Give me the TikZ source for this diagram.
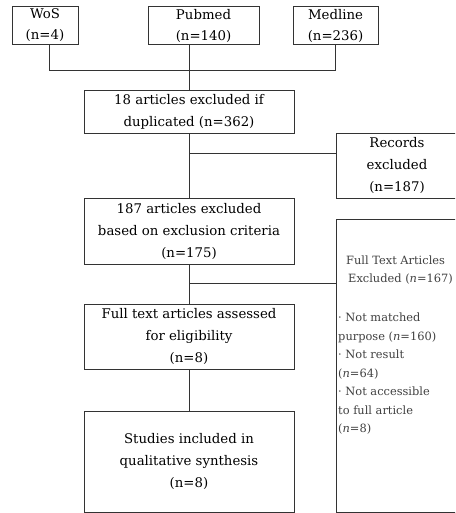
\documentclass[tikz,border=0pt]{standalone}
\usepackage{fontspec}
\setmainfont{DejaVu Serif}

\begin{document}
\begin{tikzpicture}[x=1pt,y=-1pt,
  box/.style={draw=black!80, line width=0.8pt, align=center, inner sep=0pt,
    font=\fontsize{13.3}{22}\selectfont},
  src/.style={box, minimum height=38pt, font=\fontsize{13.3}{21}\selectfont},
  note/.style={align=left, inner sep=0pt, text=black!75,
    font=\fontsize{11.4}{18.5}\selectfont},
  link/.style={draw=black!80, line width=0.8pt}]
  \clip (0,0) rectangle (455,513);

  % sources
  \node[src, minimum width=66pt] (wos) at (45,25.5) {WoS\\(n=4)};
  \node[src, minimum width=111pt] (pubmed) at (203.5,25.5) {Pubmed\\(n=140)};
  \node[src, minimum width=85pt] (medline) at (335.5,25.5) {Medline\\(n=236)};

  % main column
  \node[box, minimum width=210pt, minimum height=43pt] (dup) at (189,111.5) {18 articles excluded if\\duplicated (n=362)};
  \node[box, minimum width=210pt, minimum height=66pt] (crit) at (189,231) {187 articles excluded\\based on exclusion criteria\\(n=175)};
  \node[box, minimum width=210pt, minimum height=65pt] (elig) at (189,336.5) {Full text articles assessed\\for eligibility\\(n=8)};
  \node[box, minimum width=210pt, minimum height=101pt] (incl) at (189,461.5) {Studies included in\\qualitative synthesis\\(n=8)};

  % excluded
  \node[box, minimum width=122pt, minimum height=65pt] (rec) at (397,165.5) {Records\\excluded\\(n=187)};
  \node[box, minimum width=122pt, minimum height=293pt] (ftx) at (397,365.5) {};
  \node[note, anchor=north west] (ftxnote) at (338,255.5) {\hspace*{8pt}Full Text Articles\\
    \hspace*{10pt}Excluded (\textit{n}=167)\\[20.5pt]
    · Not matched\\
    purpose (\textit{n}=160)\\
    · Not result\\
    (\textit{n}=64)\\
    · Not accessible\\
    to full article\\
    (\textit{n}=8)};

  \coordinate (top) at (190,70);
  \coordinate (b1) at (189,153);
  \coordinate (b2) at (189,283);

  \draw[link] ([xshift=4pt]wos.south) |- (medline.south |- top) -- (medline.south);
  \draw[link] (pubmed.south -| dup.north) -- (dup.north);
  \draw[link] (dup) -- (crit);
  \draw[link] (b1) -- (b1 -| rec.west);
  \draw[link] (crit) -- (elig);
  \draw[link] (b2) -- (b2 -| ftx.west);
  \draw[link] (elig) -- (incl);
\end{tikzpicture}
\end{document}
